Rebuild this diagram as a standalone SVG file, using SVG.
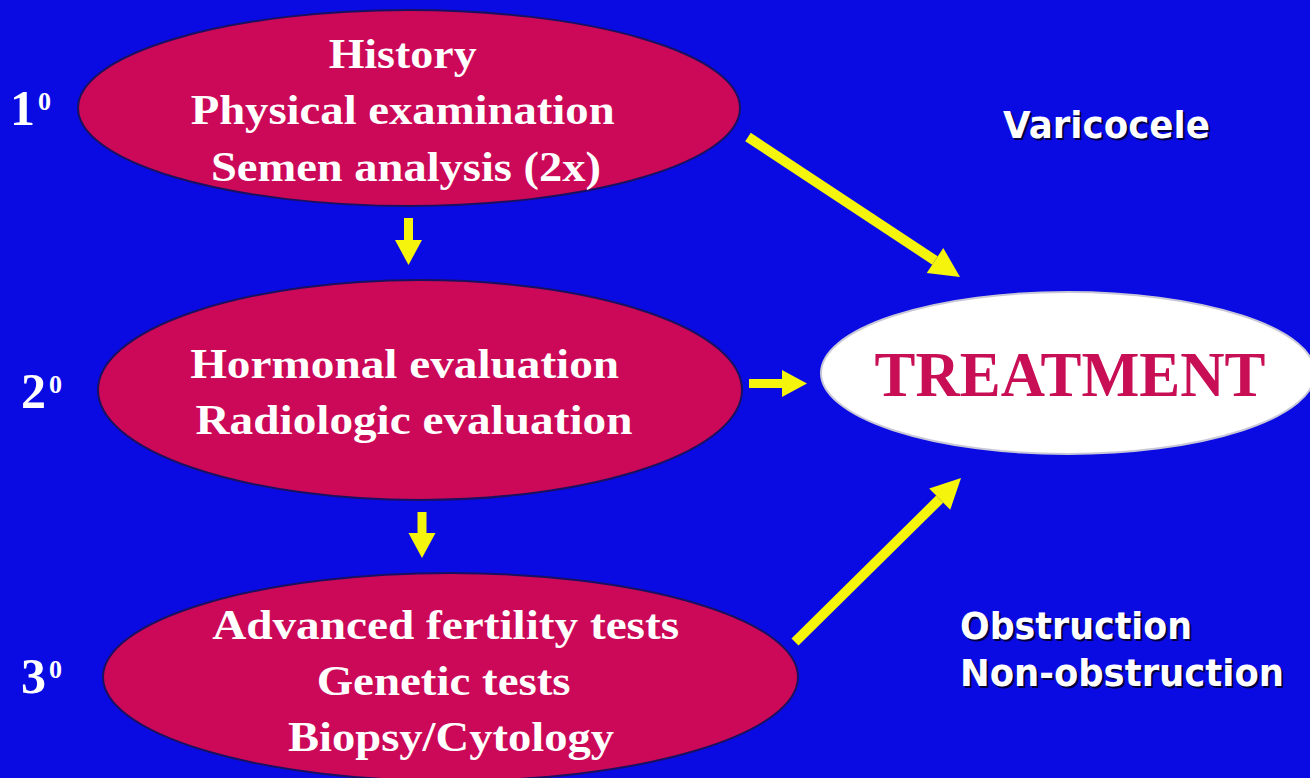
<svg xmlns="http://www.w3.org/2000/svg" width="1310" height="778" viewBox="0 0 1310 778">
  <defs>
    <marker id="headL" markerUnits="userSpaceOnUse" markerWidth="30" markerHeight="30" refX="0" refY="15" orient="auto" overflow="visible">
      <path d="M0,0 L30,15 L0,30 Z" fill="#f4f40c"/>
    </marker>
    <marker id="headS" markerUnits="userSpaceOnUse" markerWidth="26" markerHeight="27" refX="0" refY="13.5" orient="auto" overflow="visible">
      <path d="M0,0 L25,13.5 L0,27 Z" fill="#f4f40c"/>
    </marker>
    <style>
      .bg { fill: #0a0ae2; }
      .step { fill: #cc0858; stroke: #1a1060; stroke-width: 2; }
      .treat { fill: #ffffff; stroke: #c8c8d8; stroke-width: 2; }
      .serif { font-family: "Liberation Serif", "Times New Roman", serif; font-weight: bold; }
      .wt { fill: #ffffff; }
      .lvl { fill: #ffffff; font-size: 50px; }
      .sup { font-size: 26px; }
      .sans { font-family: "DejaVu Sans", Verdana, sans-serif; font-weight: bold; font-size: 38px; }
      .sansh { fill: #000040; }
      .conn { stroke: #f4f40c; fill: none; }
      .big { stroke-width: 10; marker-end: url(#headL); }
      .small { stroke-width: 9; marker-end: url(#headS); }
    </style>
  </defs>

  <rect class="bg" x="0" y="0" width="1310" height="778"/>

  <g id="labels">
    <text class="serif lvl" x="10" y="125">1<tspan class="sup" dx="3" dy="-15">0</tspan></text>
    <text class="serif lvl" x="21" y="408">2<tspan class="sup" dx="3" dy="-15">0</tspan></text>
    <text class="serif lvl" x="21" y="693">3<tspan class="sup" dx="3" dy="-15">0</tspan></text>
  </g>

  <g id="node-primary">
    <ellipse class="step" cx="409" cy="108" rx="331" ry="98"/>
    <text class="serif wt" font-size="43" text-anchor="middle">
      <tspan x="408" y="68" textLength="148" lengthAdjust="spacingAndGlyphs">History</tspan>
      <tspan x="408" y="124" textLength="424" lengthAdjust="spacingAndGlyphs">Physical examination</tspan>
      <tspan x="406" y="181" textLength="390" lengthAdjust="spacingAndGlyphs">Semen analysis (2x)</tspan>
    </text>
  </g>

  <g id="node-secondary">
    <ellipse class="step" cx="420" cy="390" rx="322" ry="110"/>
    <text class="serif wt" font-size="43" text-anchor="middle">
      <tspan x="410" y="378" textLength="429" lengthAdjust="spacingAndGlyphs">Hormonal evaluation</tspan>
      <tspan x="414" y="434" textLength="437" lengthAdjust="spacingAndGlyphs">Radiologic evaluation</tspan>
    </text>
  </g>

  <g id="node-tertiary">
    <ellipse class="step" cx="450.5" cy="677" rx="347.5" ry="104"/>
    <text class="serif wt" font-size="43" text-anchor="middle">
      <tspan x="451" y="639" textLength="467" lengthAdjust="spacingAndGlyphs">Advanced fertility tests</tspan>
      <tspan x="449" y="695" textLength="254" lengthAdjust="spacingAndGlyphs">Genetic tests</tspan>
      <tspan x="451" y="751" textLength="326" lengthAdjust="spacingAndGlyphs">Biopsy/Cytology</tspan>
    </text>
  </g>

  <g id="node-treatment">
    <ellipse class="treat" cx="1068" cy="373" rx="247" ry="81"/>
    <text class="serif" fill="#c80e55" font-size="63" x="1070" y="396" text-anchor="middle" textLength="391" lengthAdjust="spacingAndGlyphs">TREATMENT</text>
  </g>

  <g id="label-varicocele">
    <text class="sans sansh" x="1005" y="140" textLength="207" lengthAdjust="spacingAndGlyphs">Varicocele</text>
    <text class="sans wt" x="1003" y="138" textLength="207" lengthAdjust="spacingAndGlyphs">Varicocele</text>
  </g>

  <g id="label-obstruction">
    <text class="sans sansh" x="962" y="641" textLength="232" lengthAdjust="spacingAndGlyphs">Obstruction</text>
    <text class="sans wt" x="960" y="639" textLength="232" lengthAdjust="spacingAndGlyphs">Obstruction</text>
    <text class="sans sansh" x="962" y="688" textLength="324" lengthAdjust="spacingAndGlyphs">Non-obstruction</text>
    <text class="sans wt" x="960" y="686" textLength="324" lengthAdjust="spacingAndGlyphs">Non-obstruction</text>
  </g>

  <g id="connectors">
    <line class="conn big" x1="748" y1="137" x2="935" y2="260.5"/>
    <line class="conn small" x1="408.5" y1="218" x2="408.5" y2="240"/>
    <line class="conn small" x1="749" y1="383.5" x2="782" y2="383.5"/>
    <line class="conn small" x1="422" y1="512" x2="422" y2="533"/>
    <line class="conn big" x1="795" y1="642" x2="939.7" y2="499.1"/>
  </g>
</svg>
